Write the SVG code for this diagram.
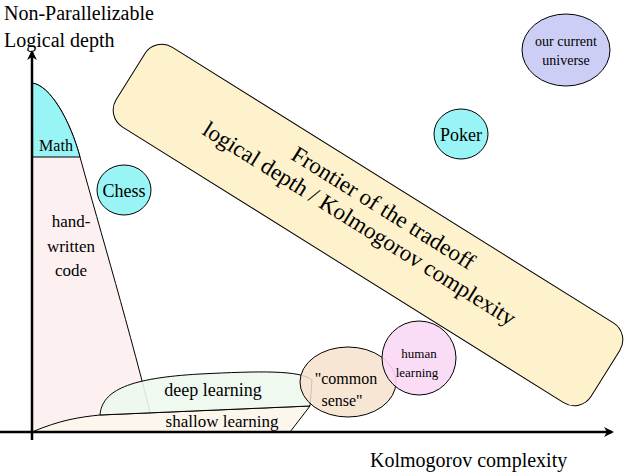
<svg xmlns="http://www.w3.org/2000/svg" width="628" height="472" viewBox="0 0 628 472">
<style>
.s{stroke:#000;stroke-width:1}
.ax{stroke:#000;stroke-width:2.5;fill:none}
</style>
<defs><marker id="ar" markerWidth="10" markerHeight="10" refX="8" refY="5" orient="auto" markerUnits="userSpaceOnUse"><path d="M0,0 L10,5 L0,10 L3,5 Z" fill="#000"/></marker></defs>
<rect width="628" height="472" fill="#fff"/>
<g font-family="'Liberation Serif', 'DejaVu Serif', serif" fill="#000">
<g id="handwritten">
<path d="M32,157 L80,157 C100,230 130,330 155,432 L32,432 Z" fill="#fdf0f0"/>
<path d="M32,83 C50,85 70,120 80,157 C100,230 130,330 155,432" fill="none" class="s"/>
<text x="71" y="227" font-size="17" text-anchor="middle">hand-</text>
<text x="71" y="252" font-size="17" text-anchor="middle">written</text>
<text x="71" y="276" font-size="17" text-anchor="middle">code</text>
</g>
<g id="math">
<path d="M32,83 C50,85 70,120 80,157 L32,157 Z" fill="#99f5f5" class="s"/>
<text x="56" y="151" font-size="16" text-anchor="middle">Math</text>
</g>
<g id="shallow">
<path d="M32,432 C60,420 80,417 100,415 L310,406 L290,432 Z" fill="#fdf6ec" class="s"/>
<text x="222" y="427" font-size="17" text-anchor="middle">shallow learning</text>
</g>
<g id="deep">
<path d="M100,415 C102,390 130,378 200,374 C260,371 300,370 312,380 L310,406 Z" fill="#edf8ee" fill-opacity="0.9" class="s"/>
<text x="213" y="396" font-size="18" text-anchor="middle">deep learning</text>
</g>
<g id="common">
<ellipse cx="348" cy="382" rx="48" ry="35" fill="#f6e2cc" fill-opacity="0.85" class="s"/>
<text x="346" y="384" font-size="16" text-anchor="middle">"common</text>
<text x="342" y="406" font-size="16" text-anchor="middle">sense"</text>
</g>
<g id="human">
<ellipse cx="419" cy="358" rx="37" ry="37" fill="#fbd8f6" fill-opacity="0.9" class="s"/>
<text x="419" y="358" font-size="13" text-anchor="middle">human</text>
<text x="417" y="377" font-size="13" text-anchor="middle">learning</text>
</g>
<g id="chess">
<ellipse cx="124" cy="190" rx="27" ry="25" fill="#99f5f5" class="s"/>
<text x="124" y="197" font-size="18" text-anchor="middle">Chess</text>
</g>
<g id="poker">
<ellipse cx="461" cy="134" rx="27" ry="25" fill="#99f5f5" class="s"/>
<text x="461" y="141" font-size="18" text-anchor="middle">Poker</text>
</g>
<g id="universe">
<ellipse cx="566" cy="50" rx="44" ry="36" fill="#cccef5" class="s"/>
<text x="566" y="46" font-size="14" text-anchor="middle">our current</text>
<text x="566" y="65" font-size="14" text-anchor="middle">universe</text>
</g>
<g id="frontier" transform="rotate(32 368 225)">
<rect x="88" y="178" width="560" height="94" rx="20" fill="#fdf2cc" class="s"/>
<text x="372" y="210" font-size="23" text-anchor="middle">Frontier of the tradeoff</text>
<text x="360" y="236" font-size="23" text-anchor="middle">logical depth / Kolmogorov complexity</text>
</g>
<g id="connectors">
<line x1="32" y1="440" x2="32" y2="52" class="ax" marker-end="url(#ar)"/>
<line x1="0" y1="432" x2="612" y2="432" class="ax" marker-end="url(#ar)"/>
</g>
<g id="labels">
<text x="4" y="20" font-size="20">Non-Parallelizable</text>
<text x="4" y="47" font-size="20">Logical depth</text>
<text x="370" y="467" font-size="20">Kolmogorov complexity</text>
</g>
</g>
</svg>
